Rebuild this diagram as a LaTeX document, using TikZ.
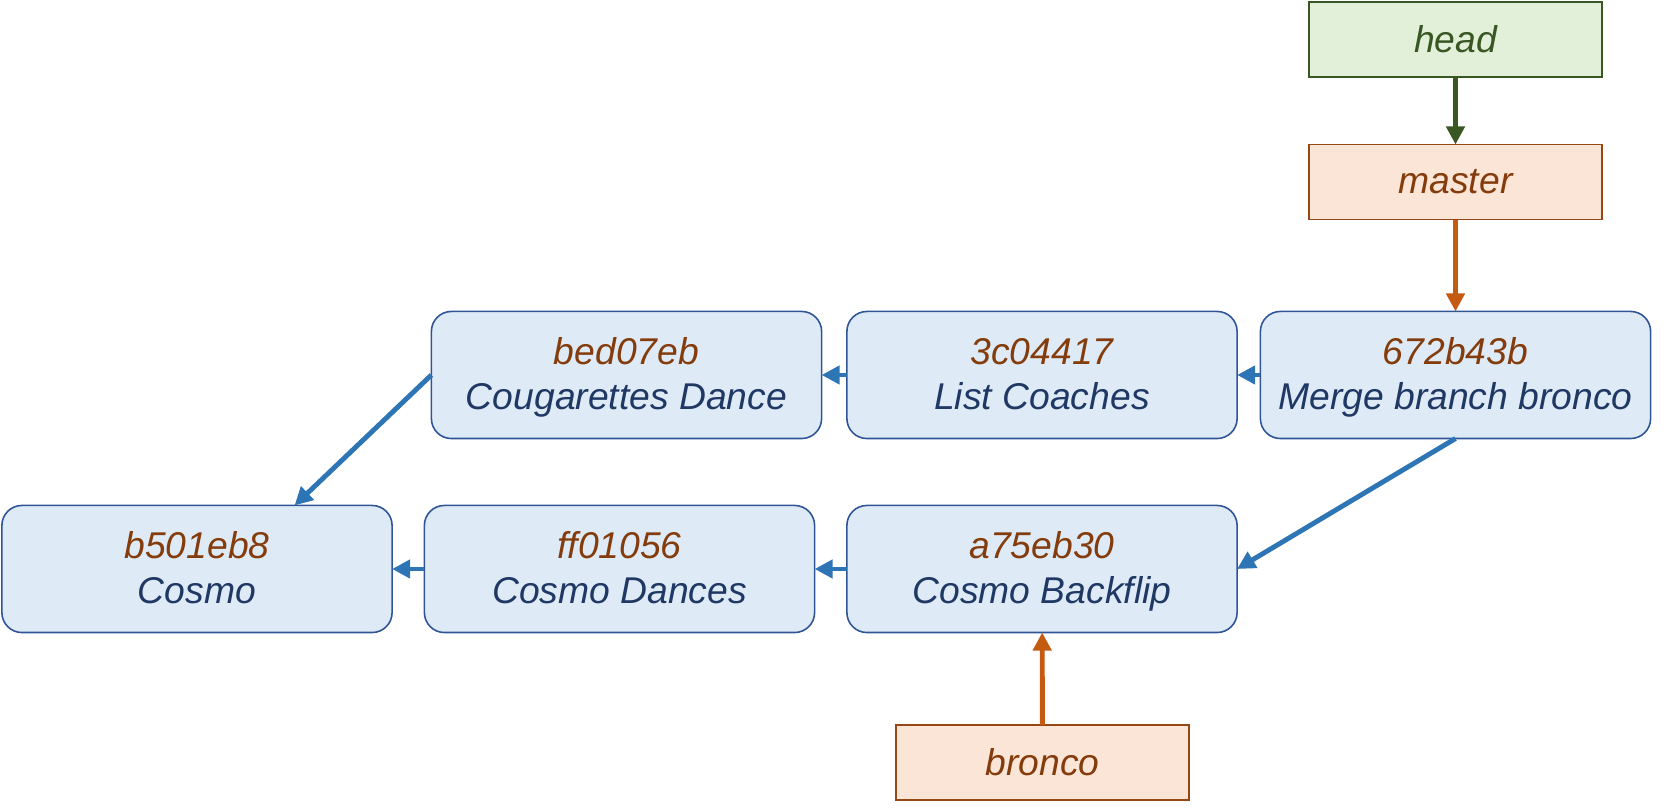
\documentclass[tikz,border=0pt]{standalone}
\usepackage{fontspec}
\setmainfont{Liberation Sans}
\usepackage{tikz}
\usetikzlibrary{arrows.meta, positioning, calc}
\usepackage{xcolor}

\definecolor{commitfill}{RGB}{222,235,247}
\definecolor{commitdraw}{RGB}{47,85,151}
\definecolor{hashcol}{RGB}{132,60,12}
\definecolor{msgcol}{RGB}{31,56,100}
\definecolor{linkblue}{RGB}{46,117,182}
\definecolor{headfill}{RGB}{226,240,217}
\definecolor{headdraw}{RGB}{56,87,35}
\definecolor{reffill}{RGB}{251,229,214}
\definecolor{refdraw}{RGB}{150,72,20}
\definecolor{reflink}{RGB}{197,90,17}

% hash on top, message below
\newcommand{\commitlabel}[2]{{\color{hashcol}\rule{0pt}{9.4pt}#1}\\#2\rule[-2.6pt]{0pt}{2.6pt}}

\begin{document}
\begin{tikzpicture}[
        x=0.01cm, y=-0.01cm,
        every node/.style={font=\fontsize{10.6}{12.8}\selectfont\itshape, outer sep=0pt},
        commit/.style={rectangle, rounded corners=0.2cm, draw=commitdraw, fill=commitfill, line width=0.45pt,
            minimum width=3.9cm, minimum height=1.27cm, align=center, text=msgcol},
        headref/.style={rectangle, draw=headdraw, fill=headfill, line width=0.45pt,
            minimum width=2.93cm, minimum height=0.75cm, text=headdraw},
        branchref/.style={rectangle, draw=refdraw, fill=reffill, line width=0.45pt,
            minimum width=2.93cm, minimum height=0.75cm, text=hashcol},
        link/.style={-{Triangle[length=0.18cm, width=0.18cm]}, line width=1.4pt, linkblue}
    ]
        \useasboundingbox (0,0) rectangle (1666,810);

        % Refs
        \node[headref] (head) at (1455.5, 39.5) {head};
        \node[branchref] (master) at (1455.5, 182) {master};
        \node[branchref] (bronco) at (1042.5, 762.5) {bronco};

        % Commits, top row
        \node[commit] (c672) at (1455.5, 375) {\commitlabel{672b43b}{Merge branch bronco}};
        \node[commit] (c3c0) at (1042, 375) {\commitlabel{3c04417}{List Coaches}};
        \node[commit] (cbed) at (626.5, 375) {\commitlabel{bed07eb}{Cougarettes Dance}};

        % Commits, bottom row
        \node[commit] (ca75) at (1042, 569) {\commitlabel{a75eb30}{Cosmo Backflip}};
        \node[commit] (cff0) at (619.5, 569) {\commitlabel{ff01056}{Cosmo Dances}};
        \node[commit] (cb50) at (197, 569) {\commitlabel{b501eb8}{Cosmo}};

        % Ref pointers
        \draw[link, headdraw] (head) -- (master);
        \draw[link, reflink] (master) -- (c672);
        \draw[link, reflink] (bronco) -- (ca75);

        % Parent links
        \draw[link] (c672) -- (c3c0);
        \draw[link] (c3c0) -- (cbed);
        \draw[link] (cbed.west) -- ($(cb50.north)!0.5!(cb50.north east)$);
        \draw[link] (c672.south) -- (ca75.east);
        \draw[link] (ca75) -- (cff0);
        \draw[link] (cff0) -- (cb50);
    \end{tikzpicture}
\end{document}
